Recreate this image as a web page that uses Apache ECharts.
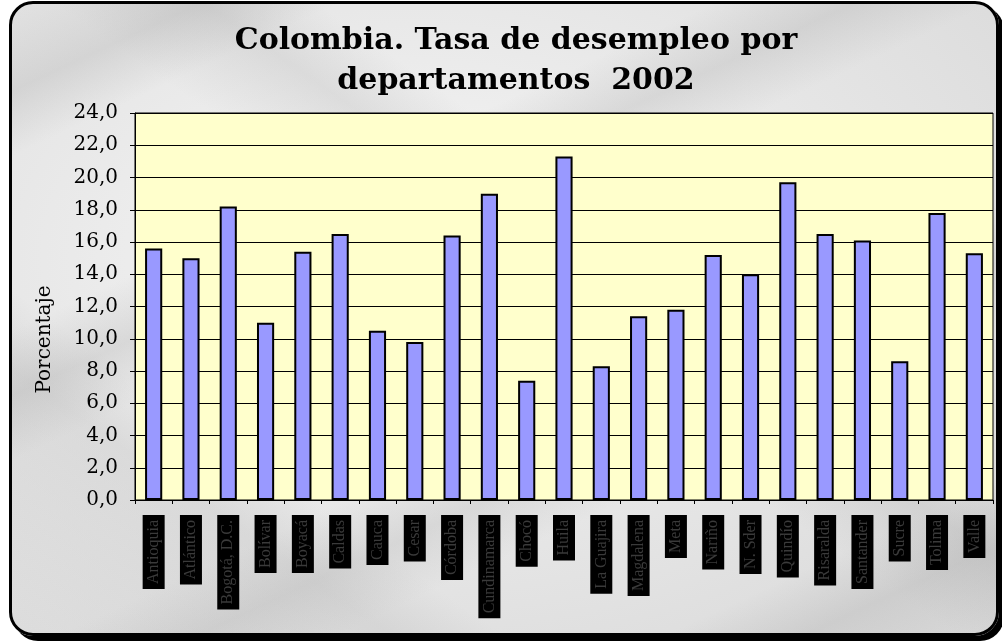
<!DOCTYPE html>
<html>
<head>
<meta charset="utf-8">
<script src="https://cdn.jsdelivr.net/npm/echarts@6/dist/echarts.min.js"></script>
<style>
  html, body { margin: 0; padding: 0; width: 1002px; height: 641px; overflow: hidden; background: #ffffff; }
  #frame {
    position: absolute; left: 9px; top: 1px; width: 984px; height: 629px;
    border: 3px solid #000; border-radius: 24px;
    box-shadow: 5px 5px 0 #000;
    background:
      linear-gradient(155deg, rgba(255,255,255,0) 0%, rgba(170,170,170,0.3) 8%, rgba(255,255,255,0) 14%, rgba(255,255,255,0) 30%, rgba(160,160,160,0.25) 36%, rgba(255,255,255,0) 42%, rgba(255,255,255,0) 60%, rgba(170,170,170,0.25) 66%, rgba(255,255,255,0) 72%, rgba(255,255,255,0) 86%, rgba(160,160,160,0.25) 92%, rgba(255,255,255,0) 100%),
      linear-gradient(35deg, rgba(255,255,255,0) 0%, rgba(180,180,180,0.25) 20%, rgba(255,255,255,0) 26%, rgba(255,255,255,0) 50%, rgba(170,170,170,0.25) 58%, rgba(255,255,255,0) 64%, rgba(255,255,255,0) 100%),
      radial-gradient(ellipse at 40% 40%, #f6f6f6 0%, #e4e4e4 60%, #d8d8d8 100%);
  }
  #chart { position: absolute; left: 0; top: 0; width: 1002px; height: 641px; }
</style>
</head>
<body>
<div id="frame"></div>
<div id="chart"></div>
<script>
const titleText = 'Colombia. Tasa de desempleo por\ndepartamentos  2002';
const yAxisName = 'Porcentaje';
const departamentos = ['Antioquia', 'Atlántico', 'Bogotá, D.C.', 'Bolívar', 'Boyacá', 'Caldas', 'Cauca', 'Cesar', 'Córdoba', 'Cundinamarca', 'Chocó', 'Huila', 'La Guajira', 'Magdalena', 'Meta', 'Nariño', 'N. Sder', 'Quindío', 'Risaralda', 'Santander', 'Sucre', 'Tolima', 'Valle'];
const tasaDesempleo = [15.6, 15.0, 18.2, 11.0, 15.4, 16.5, 10.5, 9.8, 16.4, 19.0, 7.4, 21.3, 8.3, 11.4, 11.8, 15.2, 14.0, 19.7, 16.5, 16.1, 8.6, 17.8, 15.3];
const yMin = 0, yMax = 24, yStep = 2;

const chart = echarts.init(document.getElementById('chart'), null, { renderer: 'canvas' });
chart.setOption({
  backgroundColor: 'transparent',
  animation: false,
  title: {
    text: titleText,
    left: 511, top: 16, textAlign: 'center',
    textStyle: { fontFamily: 'DejaVu Serif', fontWeight: 'bold', fontSize: 30, lineHeight: 40, color: '#000' }
  },
  grid: {
    left: 135, right: 9, top: 113, bottom: 141,
    show: true, backgroundColor: '#FFFFCC', borderColor: '#000', borderWidth: 1
  },
  xAxis: {
    type: 'category',
    data: departamentos,
    axisLine: { show: true, lineStyle: { color: '#000', width: 1 } },
    axisTick: { show: true, length: 4, alignWithLabel: false, lineStyle: { color: '#000' } },
    axisLabel: {
      interval: 0, rotate: 90, margin: 15,
      fontFamily: 'Liberation Serif', fontSize: 16, lineHeight: 16,
      color: '#3a3a3a', backgroundColor: '#000',
      padding: [3, 5, 3, 5]
    }
  },
  yAxis: {
    type: 'value',
    min: yMin, max: yMax, interval: yStep,
    name: yAxisName, nameLocation: 'middle', nameGap: 80, nameRotate: 90,
    nameTextStyle: { fontFamily: 'DejaVu Serif', fontSize: 20, color: '#000', padding: [0, 0, 0, -66] },
    axisLine: { show: true, lineStyle: { color: '#000', width: 1 } },
    axisTick: { show: true, length: 5, inside: false, lineStyle: { color: '#000' } },
    axisLabel: {
      margin: 17, fontFamily: 'DejaVu Serif', fontSize: 20, color: '#000',
      formatter: v => v.toFixed(1).replace('.', ',')
    },
    splitLine: { show: true, lineStyle: { color: '#000', width: 1 } }
  },
  series: [{
    type: 'bar',
    data: tasaDesempleo,
    barCategoryGap: '54%',
    itemStyle: { color: '#9999FF', borderColor: '#000', borderWidth: 2 }
  }]
});
</script>
</body>
</html>
